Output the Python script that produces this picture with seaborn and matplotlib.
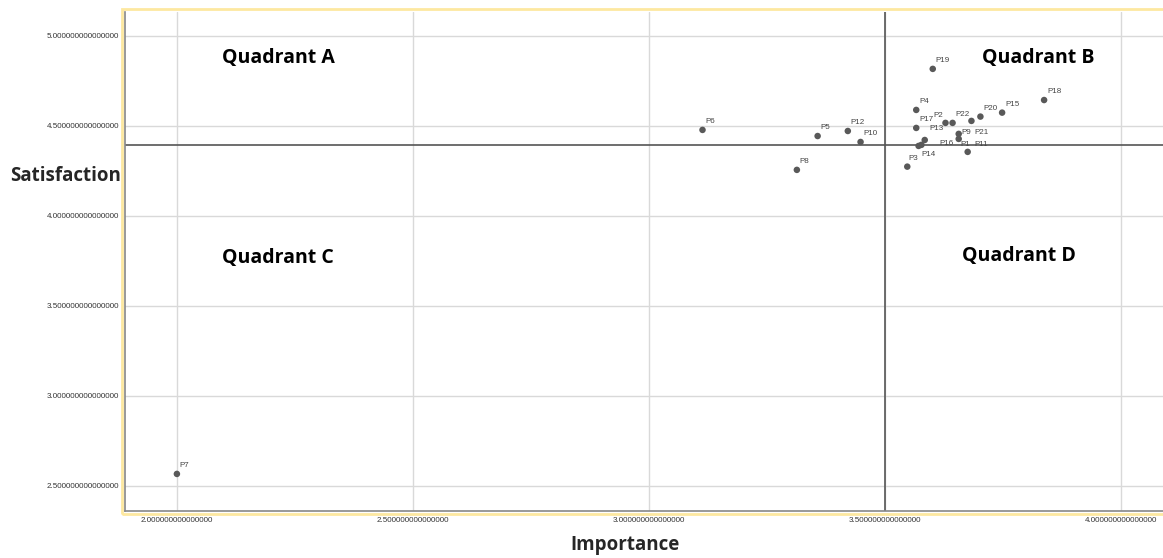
import pandas as pd
import matplotlib.pyplot as plt
import seaborn as sns
from matplotlib.patches import Rectangle
from matplotlib.ticker import FormatStrFormatter

# Importance / Satisfaction means per item
labels = ['P1', 'P2', 'P3', 'P4', 'P5', 'P6', 'P7', 'P8', 'P9', 'P10', 'P11',
          'P12', 'P13', 'P14', 'P15', 'P16', 'P17', 'P18', 'P19', 'P20', 'P21', 'P22']
importance = [3.657, 3.629, 3.548, 3.567, 3.358, 3.114, 2.000, 3.314, 3.657, 3.449, 3.676,
              3.422, 3.585, 3.572, 3.749, 3.578, 3.567, 3.838, 3.602, 3.703, 3.684, 3.644]
satisfaction = [4.428, 4.517, 4.274, 4.589, 4.444, 4.478, 2.567, 4.256, 4.456, 4.411, 4.356,
                4.472, 4.422, 4.389, 4.574, 4.395, 4.489, 4.644, 4.817, 4.552, 4.528, 4.517]
mean_importance = 3.5
mean_satisfaction = 4.394

quadrants = ['Quadrant A', 'Quadrant B', 'Quadrant C', 'Quadrant D']
quad_x = [2.095, 3.706, 2.095, 3.663]
quad_y = [4.878, 4.878, 3.767, 3.778]

df = pd.DataFrame({'label': labels, 'Importance': importance, 'Satisfaction': satisfaction})

# label offsets in points (default: up and right of the point)
offsets = {'P2': (-9, 5), 'P21': (2, -8), 'P13': (3, 8), 'P16': (13, 1),
           'P14': (2, -6), 'P3': (1, 6), 'P9': (2, 1), 'P1': (1, -4), 'P11': (5, 5)}

sns.set_style('white')
plt.rcParams['font.family'] = ['Liberation Sans', 'DejaVu Sans']
bold_font = ['Open Sans', 'DejaVu Sans']

fig = plt.figure(figsize=(11.63, 5.58), dpi=100)
ax = fig.add_axes([125 / 1163, 47 / 558, 1 - 125 / 1163, (511 - 12) / 558])

ax.set_xlim(1.89, 4.09)
ax.set_ylim(2.361, 5.133)
ax.set_xticks([2.0, 2.5, 3.0, 3.5, 4.0])
ax.set_yticks([2.5, 3.0, 3.5, 4.0, 4.5, 5.0])
ax.xaxis.set_major_formatter(FormatStrFormatter('%.15f'))
ax.yaxis.set_major_formatter(FormatStrFormatter('%.15f'))
ax.tick_params(length=0, labelsize=5.8, labelcolor='#333333', pad=4)
ax.grid(True, color='#d9d9d9', linewidth=1)
ax.set_axisbelow(True)

ax.axvline(mean_importance, color='#555555', linewidth=1.2, zorder=2)
ax.axhline(mean_satisfaction, color='#555555', linewidth=1.2, zorder=2)

sns.scatterplot(data=df, x='Importance', y='Satisfaction', ax=ax, color='#595959',
                s=22, edgecolor='none', zorder=3)

for lab, xv, yv in zip(labels, importance, satisfaction):
    dx, dy = offsets.get(lab, (2, 6))
    ax.annotate(lab, (xv, yv), xytext=(dx, dy), textcoords='offset points',
                fontsize=5.8, color='#444444', ha='left', va='center')

for q, qx, qy in zip(quadrants, quad_x, quad_y):
    ax.text(qx, qy, q, fontsize=14, fontweight='bold', family=bold_font,
            ha='left', va='center', color='black')

ax.set_xlabel('')
ax.set_ylabel('')
fig.text(570 / 1163, 1 - 545 / 558, 'Importance', fontsize=13.5, fontweight='bold',
         family=bold_font, ha='left', va='center')
fig.text(10 / 1163, 1 - 176 / 558, 'Satisfaction', fontsize=13.5, fontweight='bold',
         family=bold_font, ha='left', va='center')

for side in ['top', 'right']:
    ax.spines[side].set_visible(False)
for side in ['left', 'bottom']:
    ax.spines[side].set_color('#888888')
    ax.spines[side].set_linewidth(1.2)

# yellow selection frame around the plot area
fig.patches.append(Rectangle((122 / 1163, 1 - 514 / 558), 1.2, (514 - 9) / 558,
                             transform=fig.transFigure, fill=False,
                             edgecolor='#fde8a0', linewidth=2, zorder=0))

fig.savefig('out.png', dpi=100)
